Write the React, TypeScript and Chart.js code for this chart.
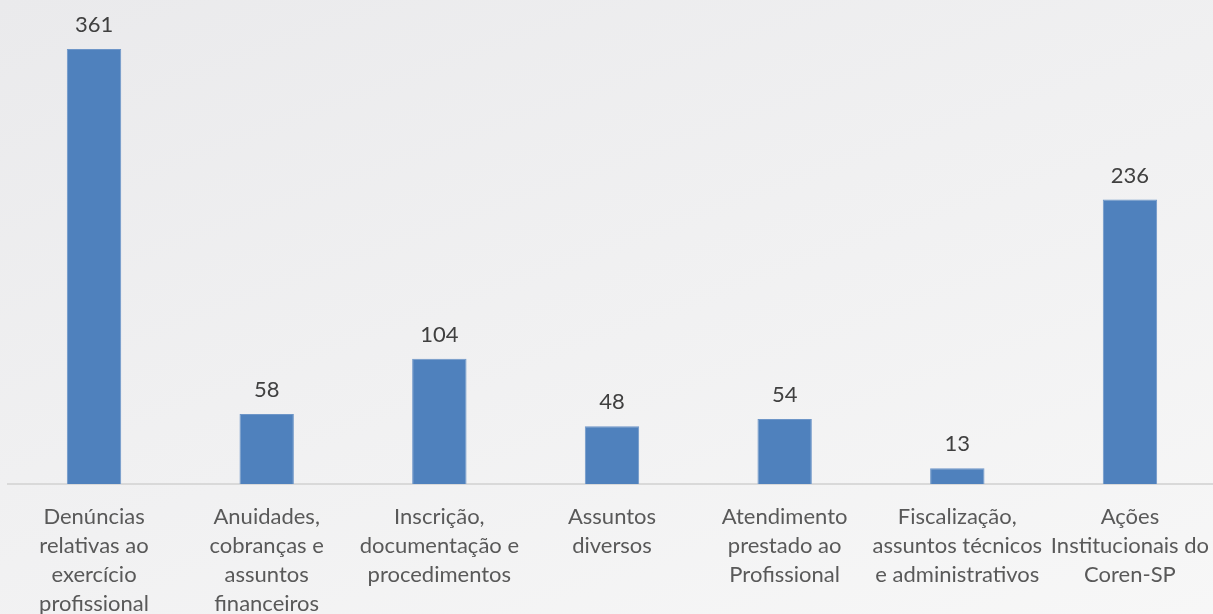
import React, { useEffect, useRef } from "react";
import { Chart, registerables } from "chart.js";

Chart.register(...registerables);

const categories: string[][] = [
  ["Denúncias", "relativas ao", "exercício", "profissional"],
  ["Anuidades,", "cobranças e", "assuntos", "financeiros"],
  ["Inscrição,", "documentação e", "procedimentos"],
  ["Assuntos", "diversos"],
  ["Atendimento", "prestado ao", "Profissional"],
  ["Fiscalização,", "assuntos técnicos", "e administrativos"],
  ["Ações", "Institucionais do", "Coren-SP"],
];
const values: number[] = [361, 58, 104, 48, 54, 13, 236];
const yMax = 400;

const FONT = "Lato, 'Open Sans', sans-serif";

const valueLabels = {
  id: "valueLabels",
  afterDatasetsDraw(chart: any) {
    const ctx = chart.ctx;
    const meta = chart.getDatasetMeta(0);
    ctx.save();
    ctx.font = `22px ${FONT}`;
    ctx.fillStyle = "#404040";
    ctx.textAlign = "center";
    ctx.textBaseline = "middle";
    meta.data.forEach((bar: any, i: number) => {
      ctx.fillText(String(values[i]), bar.x, bar.y - 24);
    });
    ctx.restore();
  },
};

export default function App() {
  const ref = useRef<HTMLCanvasElement | null>(null);
  useEffect(() => {
    if (!ref.current) return;
    const chart = new Chart(ref.current, {
      type: "bar",
      data: {
        labels: categories,
        datasets: [
          {
            data: values,
            backgroundColor: "#4f81bd",
            borderColor: "#6e96c8",
            borderWidth: 1,
            barPercentage: 0.315,
            categoryPercentage: 1,
          },
        ],
      },
      options: {
        animation: false,
        responsive: false,
        maintainAspectRatio: false,
        layout: { padding: { left: 7.7, right: 7.7, top: 2, bottom: 0 } },
        plugins: { legend: { display: false }, tooltip: { enabled: false } },
        scales: {
          x: {
            grid: { display: false },
            border: { display: true, color: "#d9d9d9", width: 2 },
            ticks: {
              color: "#595959",
              font: { family: FONT, size: 22, lineHeight: 1.32 },
              padding: 10,
              maxRotation: 0,
              autoSkip: false,
            },
            afterFit: (scale: any) => {
              scale.height = 130;
            },
          },
          y: {
            display: false,
            min: 0,
            max: yMax,
          },
        },
      },
      plugins: [valueLabels],
    });
    return () => chart.destroy();
  }, []);
  return (
    <div
      style={{
        position: "fixed",
        left: 0,
        top: 0,
        width: 1213,
        height: 614,
        overflow: "hidden",
        background: "linear-gradient(160deg, #eaeaec 0%, #f7f7f7 100%)",
      }}
    >
      <canvas ref={ref} width={1224} height={614} style={{ display: "block" }} />
    </div>
  );
}
